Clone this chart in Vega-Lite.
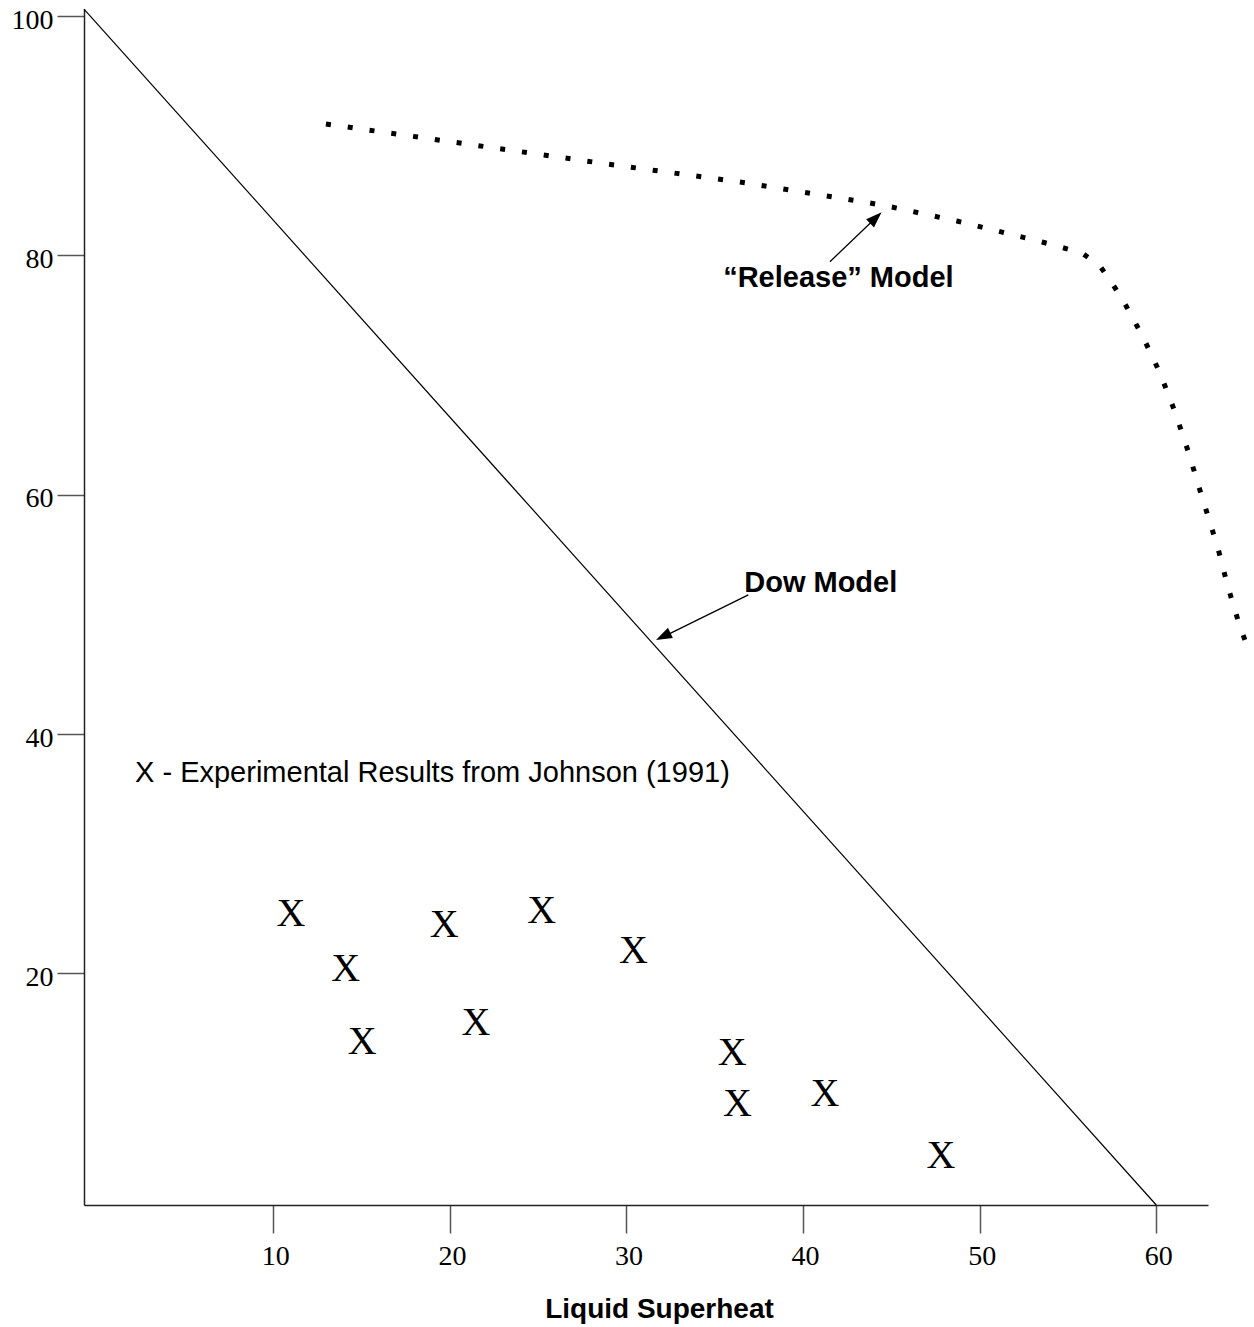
{
  "$schema": "https://vega.github.io/schema/vega-lite/v6.json",
  "width": 1124,
  "height": 1196,
  "autosize": {"type": "none"},
  "padding": {"left": 84, "top": 9, "right": 46, "bottom": 122},
  "background": "white",
  "config": {"view": {"stroke": null}},
  "datasets": {
    "experiments": [
      {"superheat": 11.0, "value": 25.0},
      {"superheat": 14.1, "value": 20.4},
      {"superheat": 15.04, "value": 14.24},
      {"superheat": 19.68, "value": 24.07},
      {"superheat": 21.48, "value": 15.9},
      {"superheat": 25.2, "value": 25.24},
      {"superheat": 30.39, "value": 21.84},
      {"superheat": 35.98, "value": 13.35},
      {"superheat": 36.29, "value": 9.09},
      {"superheat": 41.24, "value": 9.92},
      {"superheat": 47.81, "value": 4.71}
    ],
    "dow": [
      {"superheat": -0.72, "value": 100.59},
      {"superheat": 60.0, "value": 0.65}
    ],
    "release": [
      {"superheat": 12.98, "value": 90.99},
      {"superheat": 28.5, "value": 87.73},
      {"superheat": 36.43, "value": 86.14},
      {"superheat": 43.79, "value": 84.39},
      {"superheat": 45.03, "value": 84.05},
      {"superheat": 48.71, "value": 82.88},
      {"superheat": 53.53, "value": 81.13},
      {"superheat": 55.79, "value": 80.21},
      {"superheat": 56.81, "value": 79.12},
      {"superheat": 57.49, "value": 77.7},
      {"superheat": 58.11, "value": 76.28},
      {"superheat": 59.25, "value": 73.19},
      {"superheat": 60.21, "value": 70.18},
      {"superheat": 61.06, "value": 66.93},
      {"superheat": 61.8, "value": 63.67},
      {"superheat": 62.47, "value": 60.41},
      {"superheat": 63.49, "value": 55.56},
      {"superheat": 64.06, "value": 52.3},
      {"superheat": 64.74, "value": 48.96},
      {"superheat": 65.13, "value": 47.46}
    ],
    "boldLabels": [
      {"superheat": 42.0, "value": 77.4, "label": "“Release” Model"},
      {"superheat": 41.0, "value": 51.9, "label": "Dow Model"}
    ],
    "noteLabels": [
      {"superheat": 2.17, "value": 36.0, "label": "X - Experimental Results from Johnson (1991)"}
    ],
    "arrows": [
      {"name": "release", "superheat": 41.52, "value": 79.48, "superheat2": 44.3, "value2": 83.4},
      {"name": "dow", "superheat": 36.9, "value": 51.64, "superheat2": 31.9, "value2": 48.0}
    ],
    "heads": [
      {"name": "release", "superheat": 44.12, "value": 83.15},
      {"name": "dow", "superheat": 32.08, "value": 48.17}
    ]
  },
  "encoding": {
    "x": {
      "field": "superheat",
      "type": "quantitative",
      "scale": {"domain": [-0.72, 62.93], "nice": false, "zero": false},
      "axis": {
        "title": "Liquid Superheat",
        "values": [10, 20, 30, 40, 50, 60],
        "grid": false,
        "domainColor": "#222222",
        "domainWidth": 1.5,
        "tickColor": "#555555",
        "tickWidth": 1.5,
        "tickSize": 28,
        "labelPadding": 9,
        "labelFont": "Liberation Serif",
        "labelFontSize": 28,
        "labelColor": "black",
        "labelOffset": 2,
        "titleFont": "Liberation Sans",
        "titleFontWeight": "bold",
        "titleFontSize": 28,
        "titleColor": "black",
        "titleX": 575,
        "titleY": 112,
        "titleAlign": "center",
        "titleBaseline": "alphabetic"
      }
    },
    "y": {
      "field": "value",
      "type": "quantitative",
      "scale": {"domain": [0.65, 100.6], "nice": false, "zero": false},
      "axis": {
        "title": null,
        "values": [20, 40, 60, 80, 100],
        "grid": false,
        "domainColor": "#222222",
        "domainWidth": 1.5,
        "tickColor": "#555555",
        "tickWidth": 1.5,
        "tickSize": 27,
        "labelPadding": 4,
        "labelFont": "Liberation Serif",
        "labelFontSize": 28,
        "labelColor": "black",
        "labelOffset": 4
      }
    }
  },
  "layer": [
    {
      "data": {"name": "dow"},
      "mark": {"type": "line", "color": "black", "strokeWidth": 1.2}
    },
    {
      "data": {"name": "release"},
      "mark": {"type": "line", "color": "black", "strokeWidth": 5, "strokeDash": [5, 17], "strokeCap": "butt", "clip": false}
    },
    {
      "data": {"name": "experiments"},
      "mark": {"type": "text", "text": "X", "font": "Liberation Serif", "fontSize": 40, "color": "black", "baseline": "middle", "align": "center"}
    },
    {
      "data": {"name": "boldLabels"},
      "mark": {"type": "text", "font": "Liberation Sans", "fontWeight": "bold", "fontSize": 29, "color": "black", "align": "center", "baseline": "alphabetic"},
      "encoding": {"text": {"field": "label"}}
    },
    {
      "data": {"name": "noteLabels"},
      "mark": {"type": "text", "font": "Liberation Sans", "fontSize": 29, "color": "black", "align": "left", "baseline": "alphabetic"},
      "encoding": {"text": {"field": "label"}}
    },
    {
      "data": {"name": "arrows"},
      "mark": {"type": "rule", "color": "black", "strokeWidth": 1.3},
      "encoding": {
        "x2": {"field": "superheat2"},
        "y2": {"field": "value2"}
      }
    },
    {
      "data": {"name": "heads"},
      "transform": [{"filter": "datum.name === 'release'"}],
      "mark": {"type": "point", "shape": "M0,-1L0.7,1L-0.7,1Z", "size": 256, "filled": true, "color": "black", "opacity": 1, "angle": 46}
    },
    {
      "data": {"name": "heads"},
      "transform": [{"filter": "datum.name === 'dow'"}],
      "mark": {"type": "point", "shape": "M0,-1L0.7,1L-0.7,1Z", "size": 256, "filled": true, "color": "black", "opacity": 1, "angle": 244}
    }
  ]
}
